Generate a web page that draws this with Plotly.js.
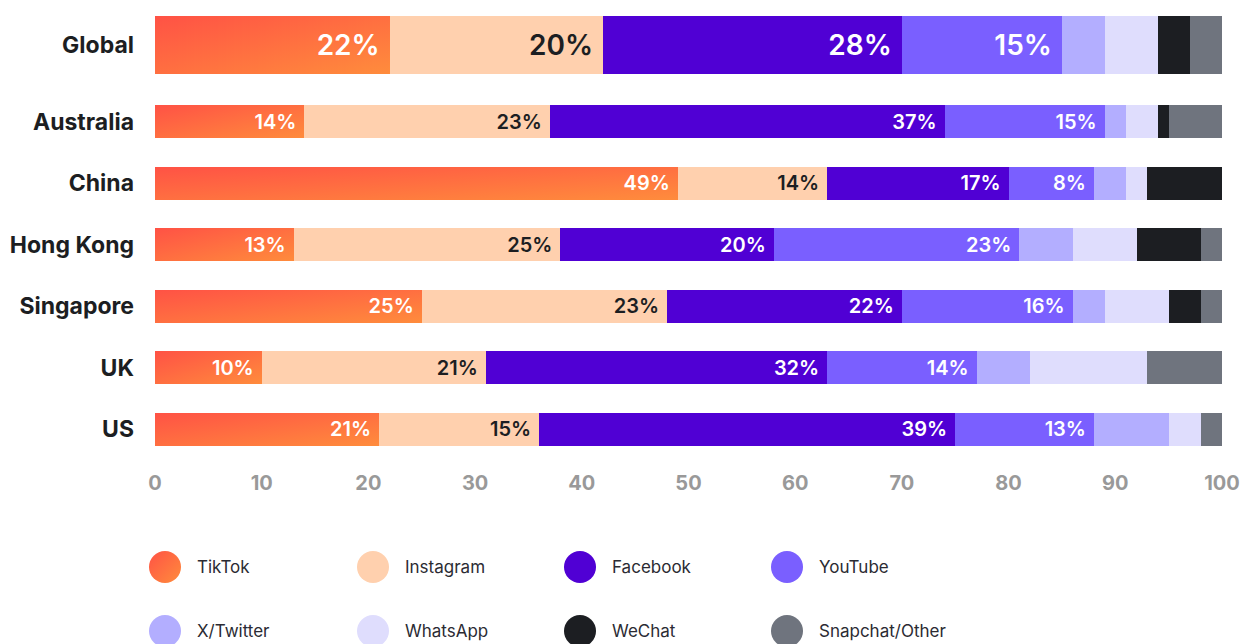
<!DOCTYPE html>
<html>
<head>
<meta charset="utf-8">
<script src="https://cdn.plot.ly/plotly-3.0.1.min.js"></script>
<style>
  html, body { margin: 0; padding: 0; background: #ffffff; }
  #chart { width: 1242px; height: 644px; }
</style>
</head>
<body>
<div id="chart"></div>
<script>
// ---- data ----
const categories = ['Global', 'Australia', 'China', 'Hong Kong', 'Singapore', 'UK', 'US'];
const platforms = ['TikTok', 'Instagram', 'Facebook', 'YouTube', 'X/Twitter', 'WhatsApp', 'WeChat', 'Snapchat/Other'];
const tiktok        = [22, 14, 49, 13, 25, 10, 21];
const instagram     = [20, 23, 14, 25, 23, 21, 15];
const facebook      = [28, 37, 17, 20, 22, 32, 39];
const youtube       = [15, 15,  8, 23, 16, 14, 13];
const xtwitter      = [ 4,  2,  3,  5,  3,  5,  7];
const whatsapp      = [ 5,  3,  2,  6,  6, 11,  3];
const wechat        = [ 3,  1,  7,  6,  3,  0,  0];
const snapchatOther = [ 3,  5,  0,  2,  2,  7,  2];
const xTickVals = [0, 10, 20, 30, 40, 50, 60, 70, 80, 90, 100];

// ---- styling ----
const seriesValues = [tiktok, instagram, facebook, youtube, xtwitter, whatsapp, wechat, snapchatOther];
const colors = ['#FF6A42', '#FFD0AE', '#5000D4', '#7A5FFF', '#B3AEFF', '#DFDDFD', '#1C1E22', '#6F747E'];
const labelled = [true, true, true, true, false, false, false, false];
const textColors = ['#ffffff', '#1C1E22', '#ffffff', '#ffffff'];
const FONT = 'Inter, "Open Sans", "Noto Sans", sans-serif';

// row layout: Global row is taller and sits a bit higher
const rowPos = categories.map((c, i) => i === 0 ? -0.25 : i);
const rowWidth = categories.map((c, i) => i === 0 ? 0.94 : 0.54);
const textSizes = categories.map((c, i) => i === 0 ? 28 : 20);

const traces = seriesValues.map((vals, k) => ({
  type: 'bar',
  orientation: 'h',
  name: platforms[k],
  x: vals,
  y: rowPos,
  width: rowWidth,
  marker: { color: colors[k], line: { width: 0 } },
  text: labelled[k] ? vals.map(v => v + '%\u00a0') : vals.map(() => ''),
  textposition: labelled[k] ? 'inside' : 'none',
  insidetextanchor: 'end',
  textangle: 0,
  textfont: { family: FONT, size: textSizes, color: labelled[k] ? textColors[k] : '#fff', weight: 600 },
  hoverinfo: 'none',
  showlegend: false
}));

// ---- legend (drawn as circles + text in paper coords) ----
const plotLeft = 155, plotRight = 1222, plotTop = 16, plotBottom = 446;
const pxX = px => (px - plotLeft) / (plotRight - plotLeft);
const pxY = py => (plotBottom - py) / (plotBottom - plotTop);
const legendColsPx = [165, 373, 580, 787];
const legendRowsPx = [567, 631];
const shapes = [];
const annotations = [];
platforms.forEach((p, k) => {
  const col = k % 4, row = Math.floor(k / 4);
  const cx = pxX(legendColsPx[col]);
  const cy = pxY(legendRowsPx[row]);
  shapes.push({
    type: 'circle', xref: 'paper', yref: 'paper',
    xsizemode: 'pixel', ysizemode: 'pixel',
    xanchor: cx, yanchor: cy,
    x0: -16, x1: 16, y0: -16, y1: 16,
    fillcolor: colors[k], line: { width: 0 }
  });
  annotations.push({
    xref: 'paper', yref: 'paper',
    x: pxX(legendColsPx[col] + 30), y: cy,
    xanchor: 'left', yanchor: 'middle',
    text: p, showarrow: false,
    font: { family: FONT, size: 17, color: '#2B2B33' }
  });
});

const layout = {
  width: 1242, height: 644,
  margin: { l: plotLeft, r: 1242 - plotRight, t: plotTop, b: 644 - plotBottom, pad: 0 },
  paper_bgcolor: '#ffffff', plot_bgcolor: '#ffffff',
  barmode: 'stack',
  bargap: 0,
  showlegend: false,
  xaxis: {
    range: [0, 100],
    tickvals: xTickVals,
    ticktext: xTickVals.map(String),
    showgrid: false, zeroline: false, showline: false,
    ticks: '', ticklabelstandoff: 23,
    tickfont: { family: FONT, size: 20, color: '#999999', weight: 700 },
    fixedrange: true
  },
  yaxis: {
    range: [6.27, -0.72],
    tickvals: rowPos,
    ticktext: categories,
    showgrid: false, zeroline: false, showline: false,
    ticks: '', ticklabelstandoff: 20,
    tickfont: { family: FONT, size: 23, color: '#1C1E22', weight: 700 },
    fixedrange: true
  },
  shapes: shapes,
  annotations: annotations,
  font: { family: FONT }
};

Plotly.newPlot('chart', traces, layout, { displayModeBar: false, staticPlot: true }).then(gd => {
  // TikTok gradient (red top-left to orange bottom-right)
  const svg = gd.querySelector('svg.main-svg');
  const NS = 'http://www.w3.org/2000/svg';
  let defs = svg.querySelector('defs');
  if (!defs) { defs = document.createElementNS(NS, 'defs'); svg.insertBefore(defs, svg.firstChild); }
  const grad = document.createElementNS(NS, 'linearGradient');
  grad.setAttribute('id', 'tiktokGrad');
  grad.setAttribute('x1', '0'); grad.setAttribute('y1', '0');
  grad.setAttribute('x2', '1'); grad.setAttribute('y2', '1');
  [['0%', '#FF5245'], ['100%', '#FF8C3C']].forEach(([o, c]) => {
    const s = document.createElementNS(NS, 'stop');
    s.setAttribute('offset', o); s.setAttribute('stop-color', c);
    grad.appendChild(s);
  });
  defs.appendChild(grad);
  const firstTrace = gd.querySelector('.barlayer .trace.bars');
  if (firstTrace) {
    firstTrace.querySelectorAll('.point path').forEach(p => { p.style.fill = 'url(#tiktokGrad)'; });
  }
  const shapePaths = gd.querySelectorAll('.shapelayer path');
  shapePaths.forEach(p => {
    if (p.getAttribute('data-index') === '0') p.style.fill = 'url(#tiktokGrad)';
  });
});
</script>
</body>
</html>
